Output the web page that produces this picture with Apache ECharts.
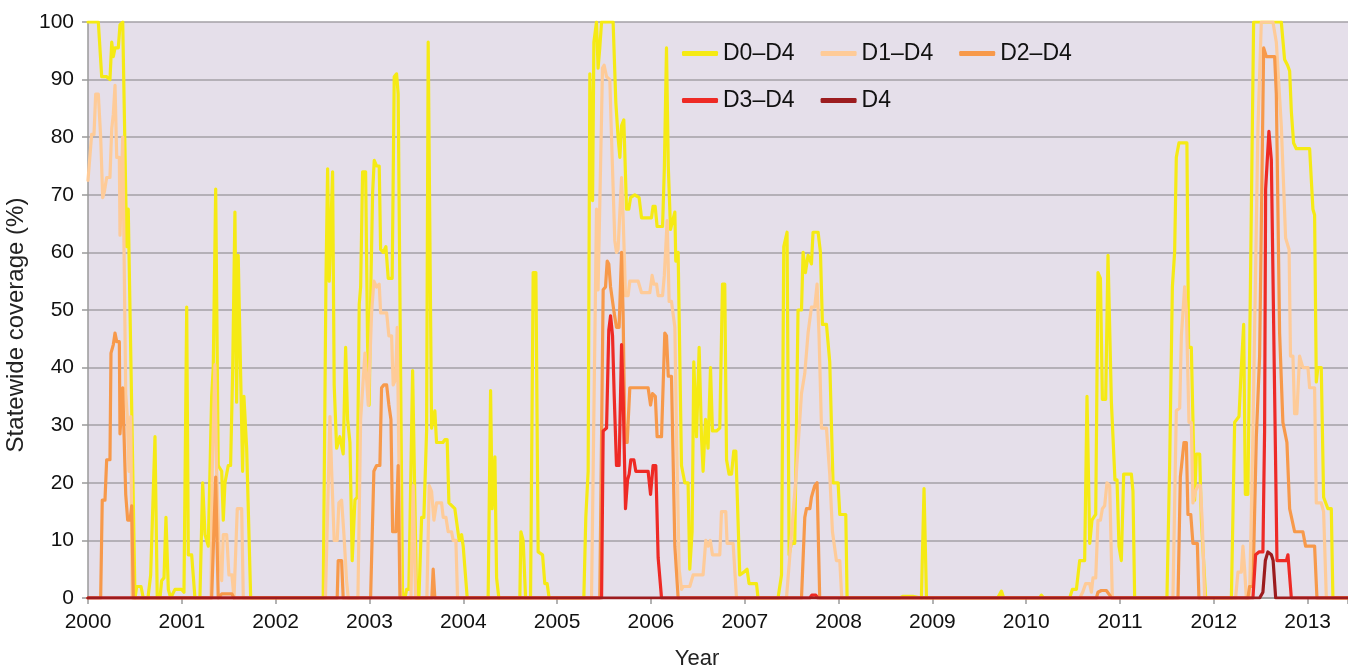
<!DOCTYPE html>
<html>
<head>
<meta charset="utf-8">
<script src="https://cdn.jsdelivr.net/npm/echarts@6/dist/echarts.min.js"></script>
<style>html,body{margin:0;padding:0;background:#fff}#c{width:1348px;height:669px}</style>
</head>
<body>
<div id="c"></div>
<script>
// Series names (legend order)
const seriesNames = ['D0–D4', 'D1–D4', 'D2–D4', 'D3–D4', 'D4'];
const seriesColors = ['#f5ea14', '#fecb98', '#f7994a', '#ee2a25', '#9c1c1f'];

// [decimal year, statewide coverage %]
const d0 = [
[2000.000,100],[2000.110,100],[2000.146,90.5],[2000.199,90.5],[2000.234,90],[2000.253,96.5],[2000.270,94],[2000.288,95.5],[2000.323,95.5],[2000.341,99.5],[2000.370,100],[2000.394,78],[2000.412,61],[2000.429,67.5],[2000.448,67.5],[2000.501,0],[2000.519,2],[2000.565,2],[2000.589,0],[2000.639,0],[2000.668,4],[2000.689,4],[2000.714,28],[2000.738,0],[2000.767,0],[2000.785,3],[2000.810,3.5],[2000.831,14],[2000.856,1.5],[2000.881,0],[2000.927,1.5],[2000.998,1.5],[2001.023,1],[2001.052,50.5],[2001.069,7.5],[2001.105,7.5],[2001.140,0],[2001.193,0],[2001.222,20],[2001.247,11],[2001.282,9],[2001.318,35],[2001.335,40],[2001.361,71],[2001.388,23],[2001.425,22],[2001.442,13.5],[2001.460,20],[2001.495,23],[2001.520,23],[2001.542,39.5],[2001.566,67],[2001.584,34],[2001.601,59.5],[2001.620,59.5],[2001.648,22],[2001.662,35],[2001.691,26],[2001.708,26],[2001.734,0],
[2002.507,0],[2002.536,54.7],[2002.554,74.5],[2002.571,55],[2002.589,55],[2002.607,74],[2002.624,37],[2002.650,26],[2002.667,26],[2002.685,28],[2002.703,28],[2002.720,25],[2002.746,43.5],[2002.767,31],[2002.792,27],[2002.816,6.5],[2002.845,17],[2002.869,17.5],[2002.891,51],[2002.906,54],[2002.927,74],[2002.959,74],[2002.980,44],[2002.997,33.5],
[2003.015,54.5],[2003.034,70.5],[2003.051,76],[2003.076,75],[2003.104,75],[2003.119,60.5],[2003.147,60],[2003.175,61],[2003.200,55.5],[2003.242,55.5],[2003.264,90.5],[2003.289,91],[2003.306,87.5],[2003.353,0],[2003.378,0],[2003.396,1.5],[2003.420,1.5],[2003.460,39.5],[2003.477,39.5],[2003.502,0],[2003.527,0],[2003.556,14],[2003.580,14],[2003.609,29],[2003.626,96.5],[2003.644,96.5],[2003.662,29.5],[2003.679,29.5],[2003.697,32.5],[2003.715,27],[2003.783,27],[2003.804,27.5],[2003.828,27.5],[2003.847,16.5],[2003.910,15.5],[2003.956,10],[2003.982,11],[2003.999,9],[2004.017,9],[2004.042,0],
[2004.265,0],[2004.291,36],[2004.308,15.5],[2004.337,24.5],[2004.355,3.5],[2004.379,0],[2004.603,0],[2004.614,11.5],[2004.638,10],[2004.664,0],[2004.717,0],[2004.745,56.5],[2004.774,56.5],[2004.798,8],[2004.845,7.5],[2004.869,2.5],[2004.894,2.5],[2004.915,0],
[2005.285,0],[2005.306,14],[2005.331,22],[2005.349,91],[2005.367,91],[2005.378,69],[2005.392,96.5],[2005.420,100],[2005.437,92],[2005.455,95.5],[2005.474,100],[2005.597,100],[2005.626,86],[2005.650,80],[2005.669,76.5],[2005.687,82],[2005.711,83],[2005.740,67.5],[2005.764,67.5],[2005.783,69.5],[2005.828,70],[2005.874,69.5],[2005.900,66],[2006.006,66],[2006.023,68],[2006.045,68],[2006.066,64.5],[2006.124,64.5],[2006.143,74.5],[2006.166,95.5],[2006.185,75],[2006.209,64],[2006.230,64],[2006.255,67],[2006.265,58.5],[2006.290,60],[2006.308,60],[2006.326,23],[2006.361,20],[2006.396,20],[2006.414,5],[2006.439,11.5],[2006.457,41],[2006.486,28],[2006.514,43.5],[2006.539,28],[2006.556,22],[2006.582,31],[2006.609,26],[2006.635,40],[2006.656,29],[2006.699,29],[2006.734,29.5],[2006.763,54.5],[2006.787,54.5],[2006.806,24],[2006.833,21.5],[2006.859,21.5],[2006.883,25.5],[2006.905,25.5],[2006.947,4],[2006.990,4.5],[2007.025,5],[2007.046,2.5],[2007.125,2.5],[2007.142,0],
[2007.355,0],[2007.392,4],[2007.416,61],[2007.451,63.5],[2007.473,7.5],[2007.498,9.5],[2007.533,9.5],[2007.551,29.5],[2007.568,50],[2007.605,50],[2007.622,60],[2007.647,56.5],[2007.675,59.5],[2007.711,58],[2007.728,63.5],[2007.782,63.5],[2007.807,60],[2007.828,47.5],[2007.871,47.5],[2007.906,41],[2007.924,41],[2007.941,20],[2007.995,20],[2008.013,14.5],[2008.077,14.5],[2008.091,0],
[2008.652,0],[2008.684,0.3],[2008.791,0.3],[2008.812,0],[2008.883,0],[2008.911,19],[2008.937,0],[2009.696,0],[2009.736,1.2],[2009.760,0],[2010.144,0],[2010.162,0.5],[2010.186,0],
[2010.464,0],[2010.492,1.5],[2010.535,1.5],[2010.570,6.5],[2010.623,6.5],[2010.648,35],[2010.677,9.5],[2010.701,13.5],[2010.741,14.5],[2010.765,56.5],[2010.791,55.5],[2010.812,34.5],[2010.847,34.5],[2010.872,59.5],[2010.890,59.5],[2010.908,34],[2010.925,34],[2010.946,20.5],[2010.968,20.5],[2010.989,9],[2011.014,6.5],[2011.039,21.5],[2011.121,21.5],[2011.138,18.5],[2011.156,0],
[2011.500,0],[2011.529,23],[2011.558,54],[2011.582,60],[2011.600,76.5],[2011.628,79],[2011.713,79],[2011.731,43.5],[2011.760,43.5],[2011.777,31],[2011.795,17],[2011.813,25],[2011.849,25],[2011.867,13.5],[2011.886,13.5],[2011.913,0],
[2012.187,0],[2012.222,30.5],[2012.268,31.5],[2012.293,40],[2012.318,47.5],[2012.336,18],[2012.363,18],[2012.424,100],[2012.719,100],[2012.754,93.5],[2012.786,92.5],[2012.808,91.5],[2012.826,84.5],[2012.850,79],[2012.879,78],[2013.021,78],[2013.056,67.5],[2013.074,66.5],[2013.092,37.5],[2013.109,40],[2013.145,40],[2013.170,17.5],[2013.216,15.5],[2013.252,15.5],[2013.269,0],[2013.430,0]
];

const d1 = [
[2000.000,72.5],[2000.039,80.5],[2000.064,80.5],[2000.082,87.5],[2000.110,87.5],[2000.135,80],[2000.157,69.5],[2000.174,70.5],[2000.199,73],[2000.234,73],[2000.253,81.5],[2000.270,84],[2000.288,89],[2000.306,76.5],[2000.334,76.5],[2000.341,63],[2000.359,63],[2000.370,80],[2000.384,80],[2000.402,35.5],[2000.419,31.5],[2000.437,22],[2000.455,31.5],[2000.472,0],
[2001.311,0],[2001.324,22],[2001.353,40.5],[2001.371,22],[2001.399,7.5],[2001.425,3],[2001.442,11],[2001.478,11],[2001.502,4],[2001.534,4],[2001.556,0],[2001.577,0],[2001.591,15.5],[2001.638,15.5],[2001.655,0],
[2002.531,0],[2002.579,31.5],[2002.597,22],[2002.624,10],[2002.656,10],[2002.674,16.5],[2002.703,17],[2002.728,11],[2002.756,3],[2002.774,0],
[2002.877,0],[2002.906,31],[2002.952,42.5],[2002.970,42.5],[2002.987,33.5],[2003.005,33.5],[2003.023,49.5],[2003.047,55],[2003.076,54],[2003.104,54.5],[2003.119,49.5],[2003.183,49.5],[2003.207,45.5],[2003.236,45.5],[2003.253,37],[2003.279,38],[2003.296,47],[2003.314,47],[2003.332,0],
[2003.442,0],[2003.466,19.5],[2003.492,0],[2003.612,0],[2003.637,19.5],[2003.662,18.5],[2003.687,13.5],[2003.715,16.5],[2003.769,16.5],[2003.786,14],[2003.815,14],[2003.839,11.5],[2003.875,11.5],[2003.892,10],[2003.921,10],[2003.939,0],
[2005.367,0],[2005.420,67.5],[2005.437,53.5],[2005.455,53.5],[2005.484,92],[2005.501,92.5],[2005.527,90.5],[2005.562,90],[2005.580,80],[2005.597,80],[2005.615,62],[2005.633,60],[2005.650,60.5],[2005.669,67],[2005.687,73],[2005.704,66],[2005.729,52.5],[2005.757,52.5],[2005.775,55],[2005.864,55],[2005.900,53],[2005.988,53],[2006.013,56],[2006.031,54.5],[2006.060,54.5],[2006.077,52.5],[2006.124,52.5],[2006.143,56],[2006.173,65.5],[2006.194,51.5],[2006.219,51.5],[2006.255,47],[2006.273,28],[2006.301,5],[2006.326,1.5],[2006.343,2],[2006.414,2],[2006.450,4],[2006.556,4],[2006.585,10],[2006.609,9],[2006.633,10],[2006.656,7.5],[2006.734,7.5],[2006.752,15],[2006.798,15],[2006.812,9.5],[2006.876,9.5],[2006.912,0],
[2007.445,0],[2007.551,22],[2007.605,35.5],[2007.640,39],[2007.675,46],[2007.711,50.5],[2007.746,50.5],[2007.771,54.5],[2007.792,45.5],[2007.818,29.5],[2007.871,29.5],[2007.906,21.5],[2007.935,11.5],[2007.977,6.5],[2008.013,6.5],[2008.034,0],
[2010.570,0],[2010.602,1],[2010.634,2.5],[2010.677,2.5],[2010.695,1],[2010.712,3.5],[2010.741,3.5],[2010.765,13.5],[2010.791,13.5],[2010.812,15.5],[2010.836,16],[2010.861,20],[2010.890,19.5],[2010.918,0],
[2011.564,0],[2011.600,32.5],[2011.636,33],[2011.654,45.5],[2011.671,45.5],[2011.689,54],[2011.707,50],[2011.735,30.5],[2011.760,30.5],[2011.777,16.5],[2011.803,18.5],[2011.831,19.5],[2011.856,19.5],[2011.877,13],[2011.902,0],
[2012.232,0],[2012.257,4.5],[2012.293,4.5],[2012.310,9],[2012.328,5],[2012.346,0],[2012.381,0],[2012.417,29],[2012.470,81.5],[2012.506,100],[2012.630,100],[2012.666,96.5],[2012.719,82],[2012.765,62.5],[2012.802,60.5],[2012.817,42],[2012.843,42],[2012.861,32],[2012.885,32],[2012.914,42],[2012.949,40],[2013.003,40],[2013.021,36.5],[2013.074,36.5],[2013.092,16.5],[2013.145,16.5],[2013.170,15],[2013.199,0],[2013.430,0]
];

const d2 = [
[2000.000,0],[2000.135,0],[2000.152,17],[2000.181,17],[2000.199,24],[2000.234,24],[2000.245,42.5],[2000.270,44],[2000.288,46],[2000.306,44.5],[2000.334,44.5],[2000.341,28.5],[2000.359,28.5],[2000.370,36.5],[2000.384,36.5],[2000.402,18],[2000.423,13.5],[2000.448,13.5],[2000.466,16],[2000.483,0],
[2001.318,0],[2001.361,21],[2001.388,0],[2001.406,0],[2001.425,0.7],[2001.534,0.7],[2001.556,0],
[2002.656,0],[2002.667,6.5],[2002.703,6.5],[2002.720,0],
[2003.012,0],[2003.047,22],[2003.076,23],[2003.111,23],[2003.129,36.5],[2003.154,37],[2003.183,37],[2003.207,33.5],[2003.229,31],[2003.247,11.5],[2003.282,11.5],[2003.306,23],[2003.325,0],
[2003.665,0],[2003.679,5],[2003.697,0],
[2005.455,0],[2005.491,53.5],[2005.516,54],[2005.534,58.5],[2005.551,58],[2005.570,54],[2005.591,54],[2005.608,49.5],[2005.633,47],[2005.661,47],[2005.687,60],[2005.704,49],[2005.722,27],[2005.747,27],[2005.775,36.5],[2005.970,36.5],[2005.996,33.5],[2006.017,35.5],[2006.047,35],[2006.066,28],[2006.113,28],[2006.148,46],[2006.166,45.5],[2006.185,38.5],[2006.219,38.5],[2006.255,9],[2006.290,0],
[2007.605,0],[2007.640,14],[2007.658,15.5],[2007.694,15.5],[2007.711,17.5],[2007.746,19.5],[2007.771,20],[2007.799,0],
[2010.748,0],[2010.765,1],[2010.801,1.3],[2010.854,1.3],[2010.890,0.5],[2010.908,0],
[2011.618,0],[2011.643,21],[2011.664,21],[2011.682,27],[2011.707,27],[2011.724,14.5],[2011.754,14.5],[2011.777,9.5],[2011.824,9.5],[2011.841,0],
[2012.363,0],[2012.381,2],[2012.417,2],[2012.453,28],[2012.488,42],[2012.531,95.5],[2012.559,94],[2012.648,94],[2012.666,87.5],[2012.701,46],[2012.736,30.5],[2012.779,27],[2012.808,15.5],[2012.826,15.5],[2012.861,11.5],[2012.949,11.5],[2012.978,9],[2013.074,9],[2013.099,0],[2013.430,0]
];

const d3 = [
[2000.000,0],[2005.474,0],[2005.491,29],[2005.527,29.5],[2005.551,46.5],[2005.570,49],[2005.591,45.5],[2005.608,35.5],[2005.633,23],[2005.661,23],[2005.687,44],[2005.704,35],[2005.729,15.5],[2005.751,20.5],[2005.768,21.5],[2005.786,24],[2005.818,24],[2005.839,22],[2005.970,22],[2005.996,18],[2006.023,23],[2006.052,23],[2006.077,7],[2006.113,0],
[2007.694,0],[2007.715,0.5],[2007.757,0.5],[2007.778,0],
[2012.417,0],[2012.445,7.5],[2012.481,8],[2012.523,8],[2012.541,29],[2012.552,71],[2012.573,71],[2012.587,81],[2012.613,76],[2012.673,6.5],[2012.773,6.5],[2012.790,7.5],[2012.826,0],[2013.430,0]
];

const d4 = [
[2000.000,0],[2012.488,0],[2012.523,1],[2012.549,6.5],[2012.576,8],[2012.613,7.5],[2012.632,6.5],[2012.659,0],[2013.430,0]
];

const seriesData = [d0, d1, d2, d3, d4];

const font = '"Liberation Sans", Arial, Helvetica, sans-serif';
const chart = echarts.init(document.getElementById('c'), null, {renderer: 'canvas'});

const legendCommon = {
  left: 677, itemWidth: 36, itemHeight: 5, itemGap: 26, icon: 'roundRect',
  textStyle: {fontSize: 23, color: '#111', fontFamily: font},
  selectedMode: false
};

chart.setOption({
  animation: false,
  backgroundColor: '#ffffff',
  textStyle: {fontFamily: font},
  grid: {left: 88, right: 0, top: 22, bottom: 71, containLabel: false, outerBoundsMode: 'none',
         show: true, backgroundColor: '#e5dfea', borderWidth: 0},
  legend: [
    Object.assign({data: seriesNames.slice(0, 3), top: 37}, legendCommon),
    Object.assign({data: seriesNames.slice(3), top: 84}, legendCommon)
  ],
  xAxis: {
    type: 'value', min: 2000, max: 2013.43, interval: 1,
    name: 'Year', nameLocation: 'middle', nameGap: 50,
    nameTextStyle: {fontSize: 22, color: '#222', padding: [0, 42, 0, 0]},
    axisLine: {show: true, lineStyle: {color: '#9a9a9a', width: 1.5}},
    axisTick: {show: true, length: 6, lineStyle: {color: '#9a9a9a', width: 1.5}},
    axisLabel: {fontSize: 21, color: '#111', margin: 14,
      formatter: v => Math.abs(v - Math.round(v)) < 1e-6 ? String(Math.round(v)) : ''},
    splitLine: {show: false}
  },
  yAxis: {
    type: 'value', min: 0, max: 100, interval: 10,
    name: 'Statewide coverage (%)', nameLocation: 'middle', nameGap: 54,
    nameTextStyle: {fontSize: 24, color: '#222', padding: [0, 30, 0, 0]},
    axisLine: {show: true, lineStyle: {color: '#9a9a9a', width: 1.5}},
    axisTick: {show: true, length: 6, lineStyle: {color: '#9a9a9a', width: 1.5}},
    axisLabel: {fontSize: 21, color: '#111', margin: 14},
    splitLine: {show: true, lineStyle: {color: '#a3a1a6', width: 1.5}}
  },
  series: seriesNames.map((n, i) => ({
    name: n, type: 'line', data: seriesData[i], showSymbol: false, symbol: 'none',
    color: seriesColors[i],
    lineStyle: {color: seriesColors[i], width: 3.2, cap: 'round', join: 'round'},
    z: 2 + i, clip: true
  }))
});
</script>
</body>
</html>
